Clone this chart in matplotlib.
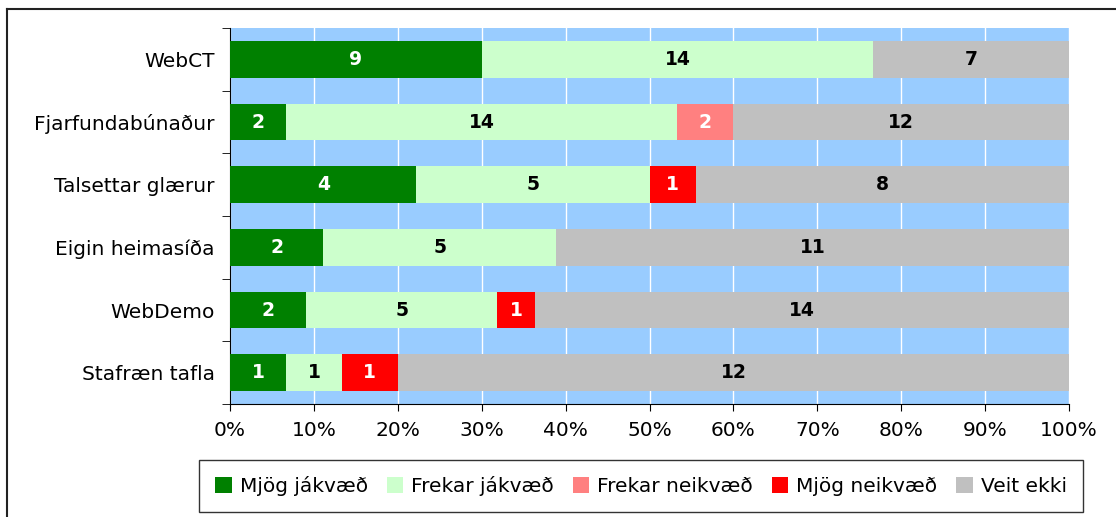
import matplotlib.pyplot as plt
import numpy as np
from matplotlib.lines import Line2D
from matplotlib.patches import Patch

categories = ['WebCT', 'Fjarfundabúnaður', 'Talsettar glærur',
              'Eigin heimasíða', 'WebDemo', 'Stafræn tafla']
series = ['Mjög jákvæð', 'Frekar jákvæð', 'Frekar neikvæð',
          'Mjög neikvæð', 'Veit ekki']
mjog_jakv = [9, 2, 4, 2, 2, 1]
frekar_jakv = [14, 14, 5, 5, 5, 1]
frekar_neikv = [0, 2, 0, 0, 0, 0]
mjog_neikv = [0, 0, 1, 0, 1, 1]
veit_ekki = [7, 12, 8, 11, 14, 12]

colors = ['#008000', '#CCFFCC', '#FF8080', '#FF0000', '#C0C0C0']
txt_colors = ['white', 'black', 'white', 'white', 'black']

counts = np.array([mjog_jakv, frekar_jakv, frekar_neikv, mjog_neikv, veit_ekki], dtype=float)
totals = counts.sum(axis=0)
shares = counts / totals * 100

fig = plt.figure(figsize=(11.16, 5.17), dpi=100)
ax = fig.add_axes([230/1116, 1-404/517, 839/1116, 376/517])
ax.set_facecolor('#99CCFF')

y = np.arange(len(categories))
left = np.zeros(len(categories))
for i in range(len(series)):
    ax.barh(y, shares[i], left=left, height=0.59, color=colors[i], zorder=3)
    for j in range(len(categories)):
        if counts[i, j] > 0:
            ax.text(left[j] + shares[i, j]/2, y[j], '%d' % counts[i, j],
                    ha='center', va='center', fontsize=13.5, fontweight='bold',
                    color=txt_colors[i], zorder=4)
    left += shares[i]

ax.set_xlim(0, 100)
ax.set_ylim(len(categories) - 0.5, -0.5)
ax.set_yticks(y)
ax.set_yticklabels(categories, fontsize=14.5)
ax.set_yticks(np.arange(-0.5, len(categories)), minor=True)
ax.tick_params(axis='y', which='major', length=0, pad=11)
ax.tick_params(axis='y', which='minor', length=6, direction='out')
ax.set_xticks(np.arange(0, 101, 10))
ax.set_xticklabels(['%d%%' % v for v in range(0, 101, 10)], fontsize=14.5)
ax.tick_params(axis='x', length=5, pad=7)
ax.grid(axis='x', color='white', linewidth=1, zorder=1)
ax.spines['top'].set_visible(False)
ax.spines['right'].set_visible(False)

handles = [Patch(facecolor=c, edgecolor='none') for c in colors]
leg = fig.legend(handles, series, loc='center', bbox_to_anchor=(641/1116, 1-486/517),
                 ncol=5, fontsize=14.5, frameon=True, fancybox=False,
                 handlelength=0.8, handleheight=0.8, handletextpad=0.4,
                 columnspacing=0.95, borderpad=0.8, borderaxespad=0)
leg.get_frame().set_edgecolor('black')
leg.get_frame().set_linewidth(1)

# outer chart border
fig.add_artist(Line2D([7/1116, 7/1116], [0, 1-9/517], color='#222222', lw=1.5))
fig.add_artist(Line2D([7/1116, 1], [1-9/517, 1-9/517], color='#222222', lw=1.5))

fig.savefig('out.png', dpi=100)
